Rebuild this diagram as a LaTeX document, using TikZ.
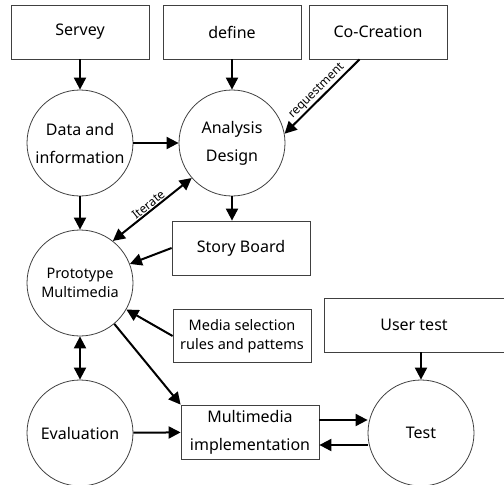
\documentclass[tikz,border=0pt]{standalone}
\usepackage{fontspec}
\setmainfont{Noto Sans}
\usetikzlibrary{arrows.meta}
\begin{document}
\begin{tikzpicture}[x=1pt,y=-1pt,
  stepbox/.style={draw=black!75, line width=0.8pt, minimum width=138pt, minimum height=54pt, inner sep=0pt, align=center, font=\fontsize{16}{28}\selectfont},
  stage/.style={circle, draw=black!75, line width=0.8pt, minimum size=106pt, inner sep=0pt, align=center, font=\fontsize{16}{28}\selectfont},
  small/.style={font=\fontsize{14.5}{19}\selectfont},
  arr/.style={line width=2pt, -{Triangle[length=12pt,width=12pt]}},
  darr/.style={line width=2pt, {Triangle[length=12pt,width=12pt]}-{Triangle[length=12pt,width=12pt]}},
  lbl/.style={font=\fontsize{12}{14}\selectfont, sloped, above, midway, inner sep=1pt}]
\useasboundingbox (0,0) rectangle (504,485);
% top row
\node[stepbox] (servey) at (80,32)  {Servey};
\node[stepbox] (define) at (232,32) {define};
\node[stepbox] (cocr)   at (378,32) {Co-Creation};
% circles
\node[stage] (data)  at (80,143)  {Data and\\information};
\node[stage] (ana)   at (232,143) {Analysis\\Design};
\node[stage, small] (proto) at (80,283) {Prototype\\Multimedia};
\node[stage] (eval)  at (80,433)  {Evaluation};
\node[stage] (test)  at (421,433) {Test};
% boxes
\node[stepbox] (story) at (241,248) {Story Board};
\node[stepbox, small, minimum height=53pt] (media) at (242,336) {Media selection\\rules and pattems};
\node[stepbox, minimum width=180pt] (utest) at (414,325) {User test};
\node[stepbox] (impl) at (250,432) {Multimedia\\implementation};
% connectors
\draw[arr] (servey) -- (data);
\draw[arr] (define) -- (ana);
\draw[arr] (cocr.236) -- node[lbl] {requestment} (ana.10);
\draw[arr] (data) -- (ana);
\draw[arr] (data) -- (proto);
\draw[arr] (ana) -- (ana |- story.north);
\draw[darr] (proto.52) -- node[lbl] {Iterate} (ana.221);
\draw[arr] (story.west) -- (proto);
\draw[arr] (media.west) -- (proto);
\draw[arr] (proto.310) -- (impl.north west);
\draw[darr] (proto) -- (eval);
\draw[arr] (eval) -- (impl);
\draw[arr] ([yshift=12pt]impl.east) -- ([yshift=12pt]impl.east -| test.west);
\draw[arr] ([yshift=-13pt]impl.east -| test.west) -- ([yshift=-13pt]impl.east);
\draw[arr] (test |- utest.south) -- (test);
\end{tikzpicture}
\end{document}
